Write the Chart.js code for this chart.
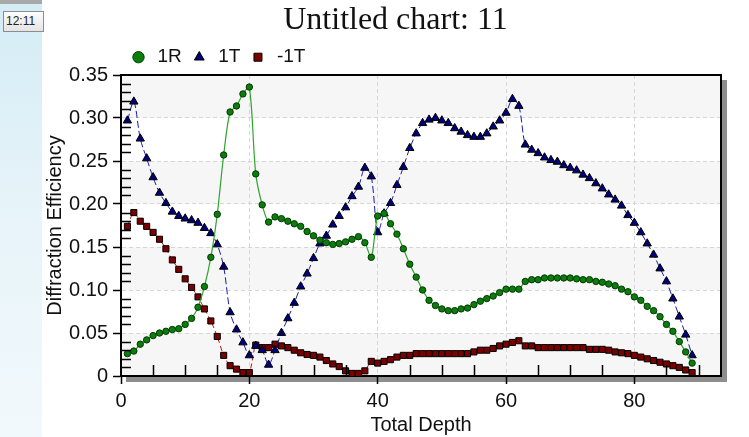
<!DOCTYPE html>
<html>
<head>
<meta charset="utf-8">
<script src="https://cdn.jsdelivr.net/npm/chart.js@4.4.1/dist/chart.umd.min.js"></script>
<style>
html, body { margin: 0; padding: 0; background: #fff; }
body { width: 749px; height: 437px; position: relative; overflow: hidden; font-family: "Liberation Sans", Arial, sans-serif; }
#side { position: absolute; left: 0; top: 0; width: 42px; height: 437px; box-sizing: border-box;
        border-top: 4px solid #a8a8a8; background: linear-gradient(to bottom, #d4ecf6 0%, #e6f3f9 45%, #f2f9fc 100%); }
#clock { position: absolute; left: 3px; top: 7px; width: 41px; height: 21px; box-sizing: border-box;
         border: 1px solid #8c8c8c; background: linear-gradient(#fdfdfd, #e4e4e4);
         font-size: 12px; line-height: 19px; color: #222; padding-left: 2px; }
#wrap { position: absolute; left: 42px; top: 0; width: 707px; height: 437px; }
</style>
</head>
<body>
<div id="side"><div id="clock">12:11</div></div>
<div id="wrap"><canvas id="myChart"></canvas></div>
<script>
// 横軸 (Total Depth)
var depth = [1,2,3,4,5,6,7,8,9,10,11,12,13,14,15,16,17,18,19,20,
             21,22,23,24,25,26,27,28,29,30,31,32,33,34,35,36,37,38,39,40,
             41,42,43,44,45,46,47,48,49,50,51,52,53,54,55,56,57,58,59,60,
             61,62,63,64,65,66,67,68,69,70,71,72,73,74,75,76,77,78,79,80,
             81,82,83,84,85,86,87,88,89];

// 系列名
var seriesNames = ['1R', '1T', '-1T'];

// 1R
var r1 = [0.026,0.029,0.037,0.042,0.047,0.050,0.052,0.054,0.055,0.060,
          0.067,0.080,0.104,0.138,0.188,0.257,0.307,0.314,0.328,0.336,
          0.235,0.199,0.179,0.185,0.183,0.180,0.177,0.174,0.168,0.163,
          0.158,0.155,0.153,0.154,0.156,0.159,0.162,0.155,0.138,0.186,
          0.189,0.177,0.165,0.148,0.130,0.115,0.100,0.088,0.082,0.078,
          0.076,0.076,0.078,0.079,0.083,0.087,0.090,0.093,0.097,0.101,
          0.101,0.101,0.110,0.112,0.112,0.114,0.114,0.114,0.114,0.114,
          0.113,0.112,0.112,0.110,0.109,0.107,0.105,0.101,0.098,0.092,
          0.088,0.081,0.076,0.069,0.060,0.052,0.040,0.028,0.015];

// 1T
var t1 = [0.297,0.319,0.276,0.253,0.231,0.213,0.201,0.191,0.186,0.183,
          0.181,0.178,0.172,0.166,0.153,0.127,0.074,0.054,0.039,0.024,
          0.035,0.030,0.013,0.030,0.050,0.067,0.085,0.104,0.119,0.137,
          0.154,0.163,0.176,0.186,0.196,0.209,0.220,0.242,0.232,0.167,
          0.189,0.201,0.222,0.243,0.265,0.282,0.294,0.298,0.300,0.297,
          0.294,0.288,0.284,0.280,0.278,0.278,0.282,0.290,0.297,0.306,
          0.322,0.314,0.269,0.263,0.259,0.254,0.251,0.249,0.245,0.242,
          0.239,0.234,0.230,0.224,0.218,0.211,0.205,0.198,0.187,0.178,
          0.167,0.154,0.141,0.125,0.110,0.090,0.069,0.048,0.024];

// -1T
var tm1 = [0.174,0.190,0.180,0.174,0.167,0.159,0.148,0.135,0.124,0.113,
           0.103,0.092,0.078,0.064,0.046,0.024,0.012,0.008,0.004,0.004,
           0.036,0.033,0.033,0.037,0.035,0.033,0.030,0.027,0.025,0.024,
           0.022,0.018,0.014,0.011,0.006,0.003,0.003,0.006,0.017,0.015,
           0.017,0.019,0.022,0.024,0.024,0.026,0.026,0.026,0.026,0.026,
           0.026,0.026,0.026,0.026,0.028,0.030,0.030,0.032,0.035,0.037,
           0.039,0.041,0.035,0.035,0.033,0.033,0.033,0.033,0.033,0.033,
           0.033,0.033,0.031,0.031,0.031,0.030,0.028,0.027,0.026,0.024,
           0.022,0.020,0.018,0.016,0.014,0.012,0.010,0.007,0.004];

// 目盛り
var xTicks = [0, 20, 40, 60, 80];
var yTicks = [0, 0.05, 0.10, 0.15, 0.20, 0.25, 0.30, 0.35];

function toPoints(vals) {
    var pts = [];
    for (var i = 0; i < depth.length; i++) {
        pts.push({ x: depth[i], y: vals[i] });
    }
    return pts;
}

var sans = 'Liberation Sans, Arial, sans-serif';

// 枠・影・縞模様・補助目盛り
var framePlugin = {
    id: 'frame',
    beforeDraw: function(chart) {
        var c = chart.ctx, a = chart.chartArea, ys = chart.scales.y;
        c.save();
        c.fillStyle = '#8e8e8e';
        c.fillRect(a.right, a.top + 5, 6, a.bottom - a.top + 1);
        c.fillRect(a.left + 5, a.bottom, a.right - a.left + 1, 6);
        c.fillStyle = '#ffffff';
        c.fillRect(a.left, a.top, a.right - a.left, a.bottom - a.top);
        c.fillStyle = '#f6f6f6';
        for (var i = 0; i + 1 < yTicks.length; i += 2) {
            var y0 = ys.getPixelForValue(yTicks[i]);
            var y1 = ys.getPixelForValue(yTicks[i + 1]);
            c.fillRect(a.left, y1, a.right - a.left, y0 - y1);
        }
        c.restore();
    },
    afterDraw: function(chart) {
        var c = chart.ctx, a = chart.chartArea, xs = chart.scales.x, ys = chart.scales.y;
        c.save();
        c.strokeStyle = '#000';
        c.lineWidth = 2;
        c.beginPath();
        c.moveTo(a.left, a.top);
        c.lineTo(a.right, a.top);
        c.lineTo(a.right, a.bottom);
        c.stroke();
        c.lineWidth = 1.5;
        c.beginPath();
        for (var v = 5; v <= 90; v += 5) {
            if (v % 20 === 0) continue;
            var px = Math.round(xs.getPixelForValue(v)) + 0.5;
            c.moveTo(px, a.bottom);
            c.lineTo(px, a.bottom - 11);
        }
        for (var k = 1; k < 35; k++) {
            if (k % 5 === 0) continue;
            var py = Math.round(ys.getPixelForValue(k / 100)) + 0.5;
            c.moveTo(a.left, py);
            c.lineTo(a.left + 10, py);
        }
        c.stroke();
        c.restore();
    }
};

var ctx = document.getElementById('myChart');

var myChart = new Chart(ctx, {
    type: 'line',
    data: {
        datasets: [{
            label: seriesNames[0],
            data: toPoints(r1),
            borderColor: '#2ea52e',
            borderWidth: 1.2,
            pointStyle: 'circle',
            pointRadius: 3.2,
            pointBackgroundColor: '#0b7d0b',
            pointBorderColor: '#053805',
            pointBorderWidth: 1,
            tension: 0.3,
            clip: false
        }, {
            label: seriesNames[1],
            data: toPoints(t1),
            borderColor: '#1a1aa8',
            borderWidth: 1,
            borderDash: [7, 3],
            pointStyle: 'triangle',
            pointRadius: 4.8,
            pointBackgroundColor: '#00007a',
            pointBorderColor: '#000',
            pointBorderWidth: 1,
            tension: 0.3,
            clip: false
        }, {
            label: seriesNames[2],
            data: toPoints(tm1),
            borderColor: '#c01818',
            borderWidth: 1,
            borderDash: [5, 3],
            pointStyle: 'rect',
            pointRadius: 4.3,
            pointBackgroundColor: '#7a0000',
            pointBorderColor: '#000',
            pointBorderWidth: 1,
            tension: 0.3,
            clip: false
        }]
    },
    options: {
        animation: false,
        responsive: true,
        maintainAspectRatio: false,
        layout: { padding: { left: 0, right: 0, top: 0, bottom: 0 } },
        plugins: {
            title: {
                display: true,
                text: 'Untitled chart: 11',
                color: '#111',
                font: { family: 'Liberation Serif, Times New Roman, serif', size: 32, weight: 'normal', lineHeight: 1.1 },
                padding: { top: 3, bottom: 1.5 }
            },
            legend: {
                position: 'top',
                align: 'start',
                fullSize: false,
                maxHeight: 35.3,
                labels: {
                    usePointStyle: true,
                    boxWidth: 19,
                    boxHeight: 8,
                    padding: 8,
                    color: '#111',
                    font: { family: sans, size: 19 }
                }
            },
            tooltip: { enabled: false }
        },
        scales: {
            x: {
                type: 'linear',
                min: 0,
                max: 93.5,
                afterBuildTicks: function(s) { s.ticks = xTicks.map(function(v) { return { value: v }; }); },
                afterFit: function(s) { s.height = 61; },
                ticks: { color: '#111', font: { family: sans, size: 20 }, padding: 5, maxRotation: 0 },
                grid: { color: '#d6d6d6', lineWidth: 1, tickColor: '#000', tickLength: 8, tickWidth: 1.5 },
                border: { display: true, color: '#000', width: 2, dash: [4, 3] },
                title: { display: true, text: 'Total Depth', color: '#111', font: { family: sans, size: 20 }, padding: { top: 0, bottom: 0 } }
            },
            y: {
                min: 0,
                max: 0.35,
                afterBuildTicks: function(s) { s.ticks = yTicks.map(function(v) { return { value: v }; }); },
                afterFit: function(s) { s.width = 79; },
                ticks: {
                    color: '#111', font: { family: sans, size: 20 }, padding: 5,
                    callback: function(v) { return v === 0 ? '0' : v.toFixed(2); }
                },
                grid: { color: '#d6d6d6', lineWidth: 1, tickColor: '#000', tickLength: 8, tickWidth: 1.5 },
                border: { display: true, color: '#000', width: 2, dash: [4, 3] },
                title: { display: true, text: 'Diffraction Efficiency', color: '#111', font: { family: sans, size: 20 }, padding: { top: 1, bottom: 0 } }
            },
            // 右側の余白用 (表示なし)
            pad: {
                position: 'right',
                min: 0,
                max: 1,
                afterFit: function(s) { s.width = 28; },
                ticks: { display: false },
                grid: { display: false, drawTicks: false },
                border: { display: false }
            }
        }
    },
    plugins: [framePlugin]
});
</script>
</body>
</html>
